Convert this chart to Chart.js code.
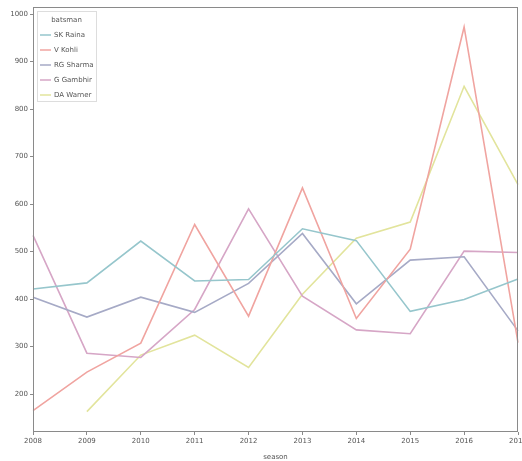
<!DOCTYPE html>
<html>
<head>
<meta charset="utf-8">
<script src="https://cdn.jsdelivr.net/npm/chart.js@4/dist/chart.umd.min.js"></script>
<style>
  html, body { margin: 0; padding: 0; background: #fff; }
  #wrap { width: 522px; height: 461px; }
</style>
</head>
<body>
<div id="wrap"><canvas id="c" width="522" height="461"></canvas></div>
<script>
// Runs per IPL season for five batsmen
const seasons = ['2008', '2009', '2010', '2011', '2012', '2013', '2014', '2015', '2016', '2017'];
const raina   = [421, 434, 522, 438, 441, 548, 523, 374, 399, 442];
const kohli   = [165, 246, 307, 557, 364, 634, 359, 505, 973, 308];
const sharma  = [404, 362, 404, 372, 433, 538, 390, 482, 489, 333];
const gambhir = [534, 286, 277, 378, 590, 406, 335, 327, 501, 498];
const warner  = [null, 163, 282, 324, 256, 410, 528, 562, 848, 641];
const yTicks  = [200, 300, 400, 500, 600, 700, 800, 900, 1000];

const names  = ['SK Raina', 'V Kohli', 'RG Sharma', 'G Gambhir', 'DA Warner'];
const series = [raina, kohli, sharma, gambhir, warner];
const colors = ['#96c6cc', '#f0a4a0', '#a6aac6', '#d6a6c6', '#e2e49c'];

const FONT = 'DejaVu Sans';

// matplotlib-style frame on all four sides
const frame = {
  id: 'frame',
  afterDraw(chart) {
    const { ctx, chartArea: a } = chart;
    ctx.save();
    ctx.strokeStyle = '#8a8a8a';
    ctx.lineWidth = 1;
    ctx.strokeRect(a.left + 0.5, a.top + 0.5, a.right - a.left - 1, a.bottom - a.top - 1);
    ctx.restore();
  }
};

// legend box in the upper-left corner of the plot
const innerLegend = {
  id: 'innerLegend',
  afterDatasetsDraw(chart) {
    const { ctx, chartArea: a } = chart;
    const x0 = a.left + 4, y0 = a.top + 4, w = 59, h = 90;
    ctx.save();
    ctx.fillStyle = 'rgba(255,255,255,0.85)';
    ctx.strokeStyle = '#dddddd';
    ctx.lineWidth = 1;
    ctx.fillRect(x0, y0, w, h);
    ctx.strokeRect(x0 + 0.5, y0 + 0.5, w, h);
    ctx.font = '7px ' + FONT;
    ctx.fillStyle = '#555';
    ctx.textBaseline = 'middle';
    ctx.textAlign = 'center';
    ctx.fillText('batsman', x0 + w / 2, y0 + 9);
    ctx.textAlign = 'left';
    chart.data.datasets.forEach((ds, i) => {
      const y = y0 + 24 + i * 15;
      ctx.strokeStyle = ds.borderColor;
      ctx.lineWidth = 1.5;
      ctx.beginPath();
      ctx.moveTo(x0 + 3, y);
      ctx.lineTo(x0 + 14, y);
      ctx.stroke();
      ctx.fillStyle = '#555';
      ctx.fillText(ds.label, x0 + 17, y);
    });
    ctx.restore();
  }
};

new Chart(document.getElementById('c'), {
  type: 'line',
  data: {
    labels: seasons,
    datasets: series.map((d, i) => ({
      label: names[i],
      data: d,
      borderColor: colors[i],
      backgroundColor: colors[i],
      borderWidth: 1.6,
      pointRadius: 0,
      tension: 0,
      fill: false,
      spanGaps: false
    }))
  },
  options: {
    responsive: false,
    animation: false,
    devicePixelRatio: 1,
    layout: { autoPadding: false, padding: { top: 7, right: 4, left: 0, bottom: 0 } },
    plugins: {
      legend: { display: false },
      tooltip: { enabled: false }
    },
    scales: {
      x: {
        type: 'category',
        offset: false,
        grid: { display: true, drawOnChartArea: false, tickLength: 3, color: '#8a8a8a' },
        border: { display: false },
        ticks: { font: { family: FONT, size: 7 }, color: '#555', padding: 2, maxRotation: 0, autoSkip: false },
        title: { display: true, text: 'season', font: { family: FONT, size: 7 }, color: '#555', padding: { top: 2, bottom: 0 } },
        afterFit(s) { s.height = 29; s.paddingLeft = 0; s.paddingRight = 0; }
      },
      y: {
        min: 120,
        max: 1015,
        grid: { display: true, drawOnChartArea: false, tickLength: 3, color: '#8a8a8a' },
        border: { display: false },
        ticks: { font: { family: FONT, size: 7 }, color: '#555', padding: 2, callback: v => String(v) },
        afterBuildTicks(s) { s.ticks = yTicks.map(v => ({ value: v })); },
        afterFit(s) { s.width = 33; s.paddingTop = 0; s.paddingBottom = 0; }
      }
    }
  },
  plugins: [frame, innerLegend]
});
</script>
</body>
</html>
